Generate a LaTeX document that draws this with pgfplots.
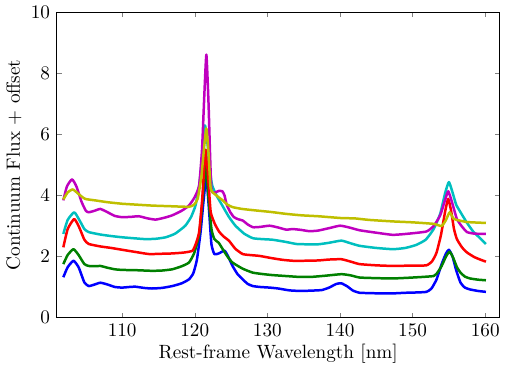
\documentclass[border=0pt]{standalone}
\usepackage{pgfplots}
\pgfplotsset{compat=1.18}

\definecolor{mb}{rgb}{0,0,1}
\definecolor{mg}{rgb}{0,0.5,0}
\definecolor{mr}{rgb}{1,0,0}
\definecolor{mc}{rgb}{0,0.75,0.75}
\definecolor{mm}{rgb}{0.75,0,0.75}
\definecolor{my}{rgb}{0.75,0.75,0}

\begin{document}
\begin{tikzpicture}
\begin{axis}[
    scale only axis,
    width=231pt, height=159pt,
    xmin=101, xmax=162,
    ymin=0, ymax=10,
    xtick={110,120,...,160},
    ytick={0,2,...,10},
    tick align=inside,
    major tick length=2.5pt,
    axis line style={line width=0.7pt},
    xlabel={Rest-frame Wavelength [nm]},
    ylabel={Continuum Flux + offset},
    xlabel style={yshift=3pt},
    ylabel style={yshift=-2pt},
    every axis plot/.append style={line width=1.3pt, line join=round, smooth, tension=0.3},
]
% blue
\addplot[mb] coordinates {
(101.9,1.32) (102.5,1.65) (103.3,1.86) (104.0,1.65) (104.8,1.15) (105.4,1.03)
(106.2,1.08) (107.0,1.14) (108.0,1.08) (109.0,1.00) (110.0,0.98) (111.0,1.00)
(111.8,1.01) (113.0,0.97) (114.1,0.95) (115.5,0.97) (116.9,1.03) (118.2,1.12)
(119.2,1.25) (119.8,1.45) (120.3,1.9) (120.8,2.8) (121.2,3.8) (121.6,4.6)
(122.0,3.4) (122.3,2.4) (122.7,2.08) (123.3,2.1) (124.1,2.19) (124.6,2.0)
(125.2,1.69) (125.9,1.42) (126.6,1.25) (127.3,1.1) (128.0,1.03) (129.0,1.0)
(130.3,0.98) (131.5,0.95) (133.0,0.89) (134.5,0.87) (136.0,0.88) (137.5,0.9)
(138.5,0.98) (139.5,1.1) (140.2,1.12) (141.0,1.02) (141.8,0.88) (142.7,0.81)
(144.0,0.80) (145.5,0.79) (147.3,0.79) (149.0,0.81) (150.5,0.82) (151.9,0.84)
(152.6,0.95) (153.3,1.25) (154.0,1.75) (154.6,2.1) (155.0,2.22) (155.5,2.0)
(156.0,1.55) (156.6,1.14) (157.2,0.98) (157.9,0.92) (159.0,0.87) (160.1,0.84)
};
% green
\addplot[mg] coordinates {
(101.9,1.75) (102.5,2.05) (103.3,2.24) (104.0,2.05) (104.8,1.75) (105.4,1.69)
(106.2,1.68) (107.0,1.69) (108.0,1.63) (109.0,1.58) (110.0,1.56) (112.0,1.55)
(114.1,1.53) (115.5,1.54) (116.9,1.58) (118.2,1.68) (119.2,1.8) (119.9,2.1)
(120.6,2.7) (121.1,3.9) (121.5,5.0) (121.9,3.9) (122.3,2.9) (122.7,2.57)
(123.3,2.45) (123.8,2.26) (124.5,2.0) (125.2,1.8) (126.6,1.6) (128.0,1.47)
(129.5,1.42) (130.7,1.39) (132.5,1.36) (134.4,1.33) (136.0,1.33) (138.0,1.37)
(140.2,1.42) (141.5,1.38) (142.7,1.31) (145.0,1.29) (147.3,1.28) (150.0,1.31)
(152.9,1.36) (153.5,1.5) (154.0,1.69) (154.6,2.0) (155.1,2.16) (155.6,1.95)
(156.1,1.65) (156.6,1.47) (157.2,1.34) (157.9,1.28) (159.0,1.24) (160.1,1.22)
};
% red
\addplot[mr] coordinates {
(101.9,2.3) (102.5,2.9) (103.4,3.23) (104.1,2.95) (104.8,2.55) (105.4,2.41)
(107.0,2.33) (108.5,2.28) (110.0,2.22) (111.8,2.15) (113.7,2.08) (115.5,2.09)
(116.9,2.1) (118.5,2.13) (119.7,2.19) (120.2,2.45) (120.6,2.8) (121.0,3.8)
(121.5,5.5) (121.9,4.4) (122.2,3.45) (122.8,3.05) (123.4,2.8) (124.0,2.65)
(124.7,2.52) (125.6,2.25) (126.6,2.08) (127.5,2.05) (128.9,2.02) (130.5,1.95)
(132.1,1.89) (133.5,1.86) (135.0,1.86) (137.0,1.87) (138.5,1.9) (140.2,1.91)
(141.5,1.83) (142.7,1.75) (145.0,1.71) (147.3,1.69) (149.5,1.7) (151.9,1.71)
(152.7,1.85) (153.3,2.13) (153.9,2.7) (154.5,3.5) (154.9,3.89) (155.3,3.5)
(155.7,2.9) (156.1,2.57) (156.8,2.3) (157.5,2.13) (158.5,1.98) (159.3,1.9)
(160.1,1.83)
};
% cyan
\addplot[mc] coordinates {
(101.9,2.74) (102.5,3.2) (103.4,3.45) (104.1,3.2) (104.8,2.9) (105.4,2.8)
(107.0,2.72) (108.5,2.67) (110.0,2.63) (111.5,2.6) (113.2,2.57) (114.6,2.58)
(116.0,2.63) (117.3,2.75) (118.7,3.01) (119.5,3.3) (120.1,3.67) (120.6,4.3)
(121.0,5.2) (121.4,6.3) (121.8,5.6) (122.1,4.8) (122.4,4.33) (123.0,4.0)
(123.8,3.67) (124.7,3.3) (125.6,3.01) (126.8,2.75) (128.0,2.6) (129.3,2.57)
(130.7,2.55) (132.5,2.48) (134.0,2.41) (135.5,2.4) (137.0,2.4) (138.5,2.45)
(140.2,2.52) (141.5,2.43) (142.7,2.35) (145.0,2.28) (147.3,2.24) (149.0,2.28)
(150.5,2.38) (151.8,2.55) (152.9,2.9) (153.8,3.4) (154.5,4.1) (155.0,4.44)
(155.5,4.1) (156.0,3.7) (156.6,3.45) (157.5,3.1) (158.4,2.8) (159.3,2.6)
(160.1,2.41)
};
% magenta
\addplot[mm] coordinates {
(101.9,3.84) (102.4,4.3) (103.1,4.53) (103.7,4.3) (104.4,3.8) (105.0,3.5)
(105.4,3.45) (106.2,3.5) (107.0,3.56) (108.0,3.45) (109.0,3.33) (110.0,3.29)
(111.2,3.3) (112.3,3.32) (113.5,3.25) (114.6,3.21) (115.8,3.27) (116.9,3.35)
(118.2,3.5) (119.2,3.67) (120.0,3.95) (120.6,4.33) (121.0,5.5) (121.3,7.2)
(121.6,8.62) (121.9,7.0) (122.1,5.4) (122.3,4.17) (122.8,4.1) (123.3,4.15)
(123.8,4.14) (124.1,4.0) (124.4,3.7) (124.9,3.45) (125.4,3.29) (126.0,3.22)
(126.6,3.18) (127.3,3.05) (128.0,2.96) (129.0,2.97) (130.3,3.01) (131.5,2.95)
(132.6,2.88) (133.5,2.9) (134.7,2.87) (135.8,2.83) (137.0,2.85) (138.5,2.93)
(140.0,3.01) (141.3,2.95) (142.7,2.86) (145.0,2.78) (147.3,2.71) (149.5,2.75)
(151.9,2.82) (152.9,3.0) (153.8,3.35) (154.4,3.8) (154.9,4.14) (155.4,3.8)
(156.1,3.23) (156.8,2.98) (157.5,2.8) (158.5,2.75) (160.1,2.74)
};
% yellow
\addplot[my] coordinates {
(101.9,3.87) (102.5,4.1) (103.2,4.2) (104.0,4.05) (104.9,3.89) (106.3,3.84)
(108.0,3.78) (110.0,3.73) (112.0,3.7) (114.1,3.67) (116.5,3.65) (119.2,3.63)
(119.9,3.7) (120.4,3.89) (120.9,4.6) (121.3,5.6) (121.6,6.2) (121.9,5.4)
(122.2,4.22) (123.0,4.0) (123.8,3.85) (124.5,3.7) (125.2,3.62) (126.5,3.56)
(128.4,3.51) (130.5,3.46) (132.5,3.4) (134.7,3.35) (137.0,3.32) (140.2,3.26)
(142.0,3.25) (144.0,3.2) (147.3,3.15) (150.0,3.12) (152.9,3.07) (154.0,3.0)
(154.6,3.2) (155.1,3.45) (155.6,3.25) (156.1,3.2) (157.5,3.13) (160.1,3.1)
};
\end{axis}
\end{tikzpicture}
\end{document}
